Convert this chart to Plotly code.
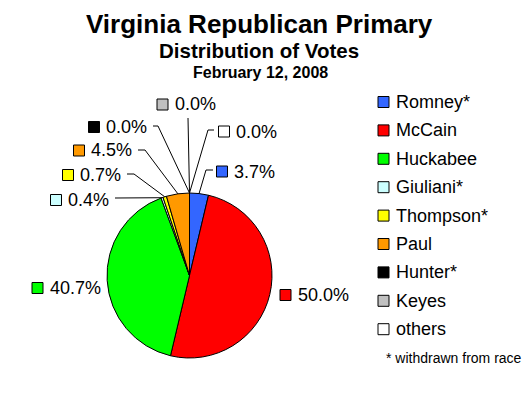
import math
import plotly.graph_objects as go

# ---- data ----
candidates = ["Romney*", "McCain", "Huckabee", "Giuliani*", "Thompson*", "Paul", "Hunter*", "Keyes", "others"]
vote_pct = [3.7, 50.0, 40.7, 0.4, 0.7, 4.5, 0.0, 0.0, 0.0]
colors = ["#3366FF", "#FF0000", "#00FF00", "#CCFFFF", "#FFFF00", "#FF9900", "#000000", "#C0C0C0", "#FFFFFF"]

# ---- layout constants (page pixels) ----
OFF = 8                      # default page body margin
W, H = 530 - OFF, 393 - OFF  # figure size
CX, CY, R = 189.5, 275.5, 82.5
# label square centre, leader elbow point, leader end point (None = no leader)
label_sq = [(222, 171.5), (285.5, 295), (37.5, 288), (56, 200), (68, 175), (79, 150.5), (94, 127), (162.5, 104.5), (224, 131.5)]
leader_pts = [((206, 170), (213, 170)), None, None, ((115, 198), (115, 198)), ((134, 174), (127, 174)),
              ((145, 150), (138, 150)), ((158, 126), (153, 126)), ((188, 118), (188, 118)), ((208, 130), (214, 130))]
legend_x, legend_y0, legend_dy = 383.5, 102, 28.4

def px(x):
    return (x - OFF) / W

def py(y):
    return 1 - (y - OFF) / H

FONT = "Arial, Liberation Sans, sans-serif"

fig = go.Figure()
fig.add_trace(go.Pie(
    labels=candidates, values=vote_pct, sort=False, direction="clockwise", rotation=0,
    marker=dict(colors=colors, line=dict(color="black", width=1)),
    textinfo="none", hoverinfo="label+percent", showlegend=False,
    domain=dict(x=[px(CX - R), px(CX + R)], y=[py(CY + R), py(CY - R)]),
))

shapes = []
annotations = []

# slice labels with leader lines
total = sum(vote_pct)
cum = 0.0
for i, v in enumerate(vote_pct):
    mid = (cum + v / 2) / total * 2 * math.pi
    cum += v
    ex, ey = CX + R * math.sin(mid), CY - R * math.cos(mid)
    if leader_pts[i] is not None:
        (bx, by), (tx, ty) = leader_pts[i]
        shapes.append(dict(type="path", xref="paper", yref="paper",
                           path=f"M {px(ex)} {py(ey)} L {px(bx)} {py(by)} L {px(tx)} {py(ty)}",
                           line=dict(color="black", width=1)))
    sx, sy = label_sq[i]
    shapes.append(dict(type="rect", xref="paper", yref="paper",
                       x0=px(sx - 5.5), x1=px(sx + 5.5), y0=py(sy - 5.5), y1=py(sy + 5.5),
                       fillcolor=colors[i], line=dict(color="black", width=1)))
    annotations.append(dict(x=px(sx + 10), y=py(sy), xref="paper", yref="paper",
                            xanchor="left", yanchor="middle", showarrow=False,
                            text=f"{v:.1f}%", font=dict(family=FONT, size=18, color="black")))

# legend
for i, name in enumerate(candidates):
    ly = legend_y0 + i * legend_dy
    shapes.append(dict(type="rect", xref="paper", yref="paper",
                       x0=px(legend_x - 5.5), x1=px(legend_x + 5.5), y0=py(ly - 5.5), y1=py(ly + 5.5),
                       fillcolor=colors[i], line=dict(color="black", width=1)))
    annotations.append(dict(x=px(legend_x + 10), y=py(ly), xref="paper", yref="paper",
                            xanchor="left", yanchor="middle", showarrow=False,
                            text=name, font=dict(family=FONT, size=18, color="black")))

annotations.append(dict(x=px(384), y=py(358), xref="paper", yref="paper", xanchor="left", yanchor="middle",
                        showarrow=False, text="* withdrawn from race", font=dict(family=FONT, size=14, color="black")))

# titles
annotations += [
    dict(x=px(259), y=py(8), xref="paper", yref="paper", xanchor="center", yanchor="top", showarrow=False,
         borderpad=0, text="<b>Virginia Republican Primary</b>", font=dict(family=FONT, size=26, color="black")),
    dict(x=px(259), y=py(50), xref="paper", yref="paper", xanchor="center", yanchor="middle", showarrow=False,
         borderpad=0, text="<b>Distribution of Votes</b>", font=dict(family=FONT, size=20.5, color="black")),
    dict(x=px(260), y=py(72), xref="paper", yref="paper", xanchor="center", yanchor="middle", showarrow=False,
         borderpad=0, text="<b>February 12, 2008</b>", font=dict(family=FONT, size=16, color="black")),
]

fig.update_layout(width=W, height=H, margin=dict(l=0, r=0, t=0, b=0),
                  paper_bgcolor="white", plot_bgcolor="white",
                  shapes=shapes, annotations=annotations, showlegend=False)
fig.write_html("out.html")
